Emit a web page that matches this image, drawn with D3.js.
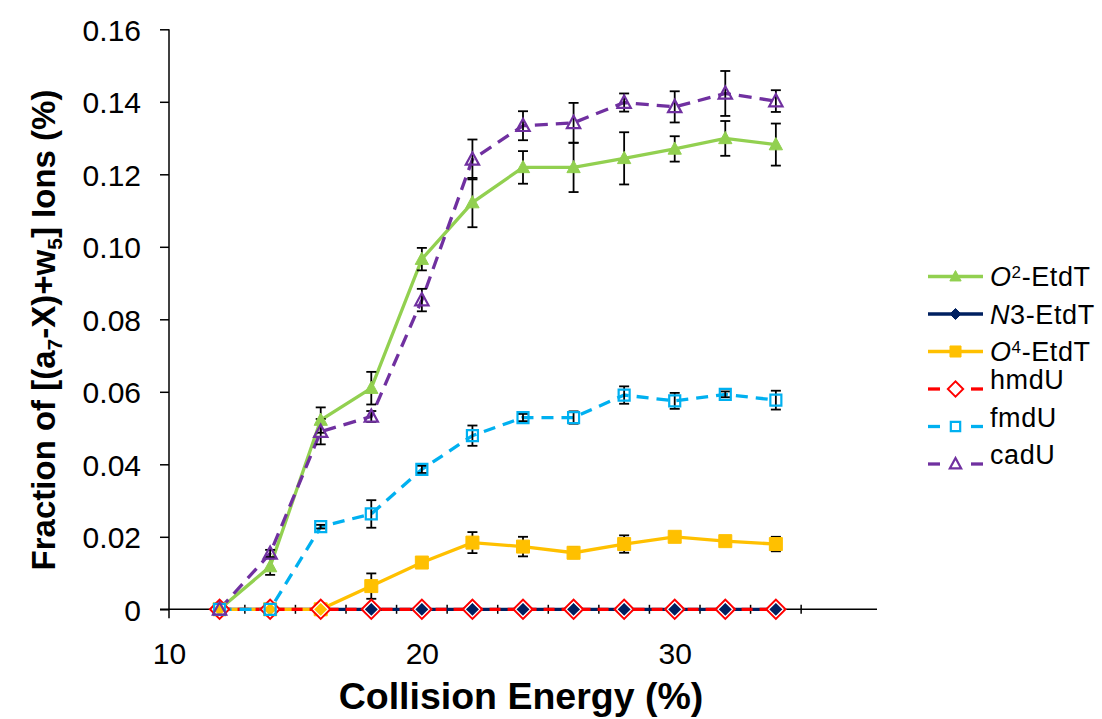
<!DOCTYPE html>
<html>
<head>
<meta charset="utf-8">
<script src="https://cdn.jsdelivr.net/npm/d3@7"></script>
<style>
  body { margin: 0; background: #fff; }
  svg text { font-family: "Liberation Sans", Arial, sans-serif; fill: #000; }
</style>
</head>
<body>
<svg id="chart" width="1102" height="719"></svg>
<script>
// collision energies (%)
let energies = [12, 14, 16, 18, 20, 22, 24, 26, 28, 30, 32, 34];

let o2Etdt    = [0, 0.0118, 0.0522, 0.0610, 0.0966, 0.1122, 0.1219, 0.1219, 0.1244, 0.1270, 0.1299, 0.1282];
let o2EtdtErr = [0, 0.0023, 0.0035, 0.0045, 0.0031, 0.0068, 0.0045, 0.0068, 0.0072, 0.0035, 0.0048, 0.0058];

let n3Etdt    = [0, 0, 0, 0, 0, 0, 0, 0, 0, 0, 0, 0];

let o4Etdt    = [0, 0, 0, 0.0064, 0.0129, 0.0184, 0.0173, 0.0156, 0.0180, 0.0200, 0.0188, 0.0180];
let o4EtdtErr = [0, 0, 0, 0.0035, 0.0008, 0.0029, 0.0027, 0.0015, 0.0024, 0.0005, 0.0005, 0.0020];

let hmdU      = [0, 0, 0, 0, 0, 0, 0, 0, 0, 0, 0, 0];

let fmdU      = [0, 0, 0.0228, 0.0263, 0.0386, 0.0479, 0.0529, 0.0529, 0.0591, 0.0575, 0.0593, 0.0577];
let fmdUErr   = [0, 0, 0.0005, 0.0038, 0.0010, 0.0028, 0.0010, 0.0017, 0.0024, 0.0022, 0.0008, 0.0026];

let cadU      = [0, 0.0154, 0.0490, 0.0532, 0.0853, 0.1241, 0.1334, 0.1342, 0.1398, 0.1386, 0.1423, 0.1402];
let cadUErr   = [0, 0.0010, 0.0035, 0.0015, 0.0031, 0.0055, 0.0040, 0.0055, 0.0025, 0.0043, 0.0062, 0.0030];

let yTicks = [0, 0.02, 0.04, 0.06, 0.08, 0.10, 0.12, 0.14, 0.16];
let xTickLabels = [10, 20, 30];
let xMinorTicks = [13, 15, 17, 19, 21, 23, 25, 27, 29, 31, 33, 35];

let seriesList = [
    {name: "O2", sup: "2", label: "-EtdT", italic: "O", values: o2Etdt, errs: o2EtdtErr,
     color: "#92d050", dash: null, shape: "triangle", filled: true, r: 7},
    {name: "N3", sup: null, label: "3-EtdT", italic: "N", values: n3Etdt, errs: null,
     color: "#002060", dash: null, shape: "diamond", filled: true, r: 6.5},
    {name: "O4", sup: "4", label: "-EtdT", italic: "O", values: o4Etdt, errs: o4EtdtErr,
     color: "#ffc000", dash: null, shape: "square", filled: true, r: 6.5},
    {name: "hmdU", sup: null, label: "hmdU", italic: null, values: hmdU, errs: null,
     color: "#ff0000", dash: "11,7", shape: "diamond", filled: false, r: 9.5},
    {name: "fmdU", sup: null, label: "fmdU", italic: null, values: fmdU, errs: fmdUErr,
     color: "#00b0f0", dash: "12,8", shape: "square", filled: false, r: 5.5},
    {name: "cadU", sup: null, label: "cadU", italic: null, values: cadU, errs: cadUErr,
     color: "#7030a0", dash: "13,8", shape: "triangle", filled: false, r: 7}
];

function markerPath(shape, r) {
    if (shape === "triangle") {
        return "M0," + (-r) + "L" + (r * 0.95) + "," + (r * 0.75) + "L" + (-r * 0.95) + "," + (r * 0.75) + "Z";
    }
    if (shape === "square") {
        return "M" + (-r) + "," + (-r) + "H" + r + "V" + r + "H" + (-r) + "Z";
    }
    return "M0," + (-r) + "L" + r + ",0L0," + r + "L" + (-r) + ",0Z";
}

function drawMarker(g, s, px, py) {
    let m = g.append("path")
        .attr("transform", "translate(" + px + "," + py + ")")
        .attr("d", markerPath(s.shape, s.r));
    if (s.filled) {
        m.attr("fill", s.color).attr("stroke", s.color).attr("stroke-width", 1);
    } else {
        m.attr("fill", "none").attr("stroke", s.color).attr("stroke-width", 2.2);
        if (s.name === "hmdU") {
            g.append("path")
                .attr("transform", "translate(" + px + "," + py + ")")
                .attr("d", markerPath(s.shape, s.r - 2.2))
                .attr("fill", "none").attr("stroke", "#fff").attr("stroke-width", 1.2);
        }
    }
}

let svg = d3.select("#chart");
let plotLeft = 169, plotRight = 877, plotTop = 29.3, plotBottom = 609.3;

let x = d3.scaleLinear().domain([10, 38]).range([plotLeft, plotRight]);
let y = d3.scaleLinear().domain([0, 0.16]).range([plotBottom, plotTop]);

// y axis
let yAxis = d3.axisLeft(y).tickValues(yTicks).tickSize(9)
    .tickFormat(d => d === 0 ? "0" : d.toFixed(2));
let gy = svg.append("g").attr("transform", "translate(" + plotLeft + ",0)").call(yAxis);
gy.select(".domain").attr("stroke", "#000").attr("stroke-width", 1.5)
    .attr("d", "M0," + plotTop + "V" + (plotBottom + 9));
gy.selectAll(".tick line").attr("stroke", "#000").attr("stroke-width", 1.5);
gy.selectAll(".tick text").attr("x", -28).attr("font-size", 30).attr("dy", "0.36em")
    .style("font-family", "'Liberation Sans', Arial, sans-serif");

// x axis
let xAxis = d3.axisBottom(x).tickValues(xTickLabels).tickSize(0).tickFormat(d3.format("d"));
let gx = svg.append("g").attr("transform", "translate(0," + plotBottom + ")").call(xAxis);
gx.select(".domain").attr("stroke", "#000").attr("stroke-width", 1.5)
    .attr("d", "M" + (plotLeft - 9) + ",0H" + plotRight);
gx.selectAll(".tick text").attr("y", 44).attr("dy", "0.36em").attr("font-size", 30)
    .style("font-family", "'Liberation Sans', Arial, sans-serif");
gx.selectAll(".minor").data(xMinorTicks).enter().append("line")
    .attr("class", "minor")
    .attr("x1", d => x(d)).attr("x2", d => x(d))
    .attr("y1", -4.5).attr("y2", 4.5)
    .attr("stroke", "#000").attr("stroke-width", 1.5);

// series lines
let line = d3.line().x(d => x(d[0])).y(d => y(d[1]));
seriesList.forEach(s => {
    let pts = energies.map((e, i) => [e, s.values[i]]);
    svg.append("path").datum(pts)
        .attr("d", line)
        .attr("fill", "none")
        .attr("stroke", s.color)
        .attr("stroke-width", 3.3)
        .attr("stroke-dasharray", s.dash);
});

// error bars
let errG = svg.append("g");
seriesList.forEach(s => {
    if (!s.errs) return;
    energies.forEach((e, i) => {
        let err = s.errs[i];
        if (!err) return;
        let cx = x(e), y1 = y(s.values[i] + err), y2 = y(s.values[i] - err);
        errG.append("line").attr("x1", cx).attr("x2", cx).attr("y1", y1).attr("y2", y2)
            .attr("stroke", "#000").attr("stroke-width", 1.8);
        [y1, y2].forEach(yy => {
            errG.append("line").attr("x1", cx - 5).attr("x2", cx + 5).attr("y1", yy).attr("y2", yy)
                .attr("stroke", "#000").attr("stroke-width", 1.8);
        });
    });
});

// markers
seriesList.forEach(s => {
    let g = svg.append("g");
    energies.forEach((e, i) => drawMarker(g, s, x(e), y(s.values[i])));
});

// axis titles
svg.append("text")
    .attr("x", 521).attr("y", 709)
    .attr("text-anchor", "middle")
    .attr("font-size", 37.5).attr("font-weight", "bold")
    .text("Collision Energy (%)");

let yt = svg.append("text")
    .attr("transform", "translate(55,330) rotate(-90)")
    .attr("text-anchor", "middle")
    .attr("font-size", 33).attr("font-weight", "bold");
yt.append("tspan").text("Fraction of [(a");
yt.append("tspan").attr("font-size", 21).attr("dy", 7).text("7");
yt.append("tspan").attr("dy", -7).text("-X)+w");
yt.append("tspan").attr("font-size", 21).attr("dy", 7).text("5");
yt.append("tspan").attr("dy", -7).text("] Ions (%)");

// legend
let legendY0 = 276.5, legendStep = 37.5;
seriesList.forEach((s, i) => {
    let ly = legendY0 + i * legendStep;
    let g = svg.append("g");
    if (s.dash) {
        [[928, 940], [971, 983]].forEach(seg => {
            g.append("line").attr("x1", seg[0]).attr("x2", seg[1]).attr("y1", ly).attr("y2", ly)
                .attr("stroke", s.color).attr("stroke-width", 3.3);
        });
    } else {
        g.append("line").attr("x1", 928).attr("x2", 983).attr("y1", ly).attr("y2", ly)
            .attr("stroke", s.color).attr("stroke-width", 3.3);
    }
    let ls = Object.assign({}, s, {r: s.shape === "diamond" && !s.filled ? 7.5 : s.r * 0.85});
    drawMarker(g, ls, 955.5, ly);
    let t = g.append("text").attr("x", 990).attr("y", ly).attr("dy", "0.36em")
        .attr("font-size", 27).attr("letter-spacing", 0.6);
    if (s.italic) t.append("tspan").attr("font-style", "italic").text(s.italic);
    if (s.sup) t.append("tspan").attr("font-size", 17).attr("dy", -8).text(s.sup);
    t.append("tspan").attr("dy", s.sup ? 8 : 0).text(s.label);
});
</script>
</body>
</html>
